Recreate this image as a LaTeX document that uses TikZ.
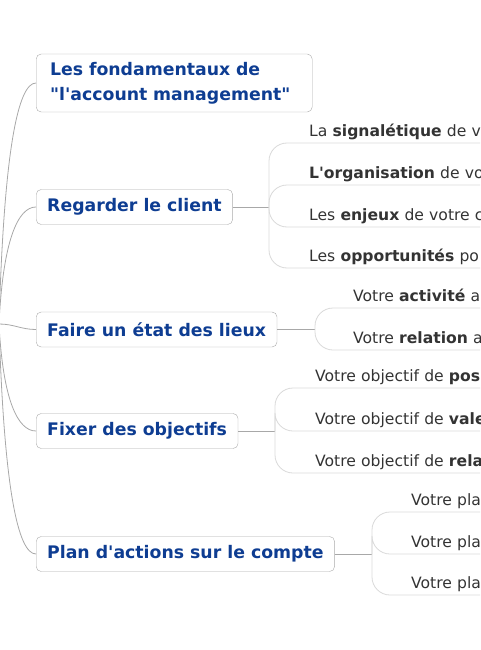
\documentclass[tikz,border=0pt]{standalone}
\usepackage{fontspec}
\setmainfont{DejaVu Sans}[Ligatures=TeXOff]
\definecolor{mapblue}{HTML}{0E3D92}
\definecolor{boxgray}{HTML}{ABABAB}
\definecolor{rootgray}{HTML}{A8A8A8}
\definecolor{subgray}{HTML}{D9D9D9}
\definecolor{textgray}{HTML}{333333}

\begin{document}
\begin{tikzpicture}[x=1pt,y=-1pt,
  topic/.style={draw=boxgray,fill=white,rounded corners=5pt,anchor=west,
    inner xsep=11pt,minimum height=35pt,text=mapblue,
    font=\fontsize{17.3}{25}\selectfont\bfseries},
  subtopic/.style={anchor=south west,inner sep=0pt,text width=200pt,
    align=left,text depth=6.4pt,text=textgray,
    font=\fontsize{15.6}{19}\selectfont},
  rootline/.style={draw=rootgray,line width=0.8pt},
  hubline/.style={draw=rootgray,line width=0.8pt},
  subline/.style={draw=subgray,line width=0.8pt,rounded corners=18pt}]
  \useasboundingbox (0,0) rectangle (480,650);
  \clip (0,0) rectangle (480,650);

  \coordinate (root) at (-1,324);

  \node[topic,inner xsep=14pt,text width=248pt,align=left,minimum height=58pt]
    (fond) at (36,83) {\rule{0pt}{14pt}Les fondamentaux de\\"l'account management"};
  \node[topic] (regarder) at (36,207) {Regarder le client};
  \node[topic] (faire) at (36,329.5) {Faire un état des lieux};
  \node[topic] (fixer) at (36,431) {Fixer des objectifs};
  \node[topic] (plan) at (36,554) {Plan d'actions sur le compte};

  \draw[rootline] (root) .. controls +(5,-174) and +(-18,0) .. (fond.west);
  \draw[rootline] (root) .. controls +(4,-84) and +(-18,0) .. (regarder.west);
  \draw[rootline] (root) .. controls +(15,0) and +(-15,0) .. (faire.west);
  \draw[rootline] (root) .. controls +(4,77) and +(-18,0) .. (fixer.west);
  \draw[rootline] (root) .. controls +(5,165) and +(-18,0) .. (plan.west);

  % Regarder le client
  \coordinate (regarder-hub) at (269,207);
  \node[subtopic] (signal) at (309,143) {La \textbf{signalétique} de v};
  \node[subtopic] (orga) at (309,185) {\textbf{L'organisation} de vo};
  \node[subtopic] (enjeux) at (309,227) {Les \textbf{enjeux} de votre c};
  \node[subtopic] (opport) at (309,268) {Les \textbf{opportunités} po};
  \draw[hubline] (regarder) -- (regarder-hub);
  \foreach \n in {signal,orga,enjeux,opport}
    \draw[subline] (regarder-hub) |- (\n.south east);

  % Faire un etat des lieux
  \coordinate (faire-hub) at (315,329.5);
  \node[subtopic] (activite) at (353,308) {Votre \textbf{activité} a};
  \node[subtopic] (relation) at (353,350) {Votre \textbf{relation} a};
  \draw[hubline] (faire) -- (faire-hub);
  \foreach \n in {activite,relation}
    \draw[subline] (faire-hub) |- (\n.south east);

  % Fixer des objectifs
  \coordinate (fixer-hub) at (275,431);
  \node[subtopic] (obj-pos) at (315,388) {Votre objectif de \textbf{pos}};
  \node[subtopic] (obj-val) at (315,431) {Votre objectif de \textbf{vale}};
  \node[subtopic] (obj-rel) at (315,473) {Votre objectif de \textbf{rela}};
  \draw[hubline] (fixer) -- (fixer-hub);
  \foreach \n in {obj-pos,obj-val,obj-rel}
    \draw[subline] (fixer-hub) |- (\n.south east);

  % Plan d'actions
  \coordinate (plan-hub) at (372,554);
  \node[subtopic] (plan-a) at (411,512) {Votre pla};
  \node[subtopic] (plan-b) at (411,554) {Votre pla};
  \node[subtopic] (plan-c) at (411,595) {Votre pla};
  \draw[hubline] (plan) -- (plan-hub);
  \foreach \n in {plan-a,plan-b,plan-c}
    \draw[subline] (plan-hub) |- (\n.south east);
\end{tikzpicture}
\end{document}
